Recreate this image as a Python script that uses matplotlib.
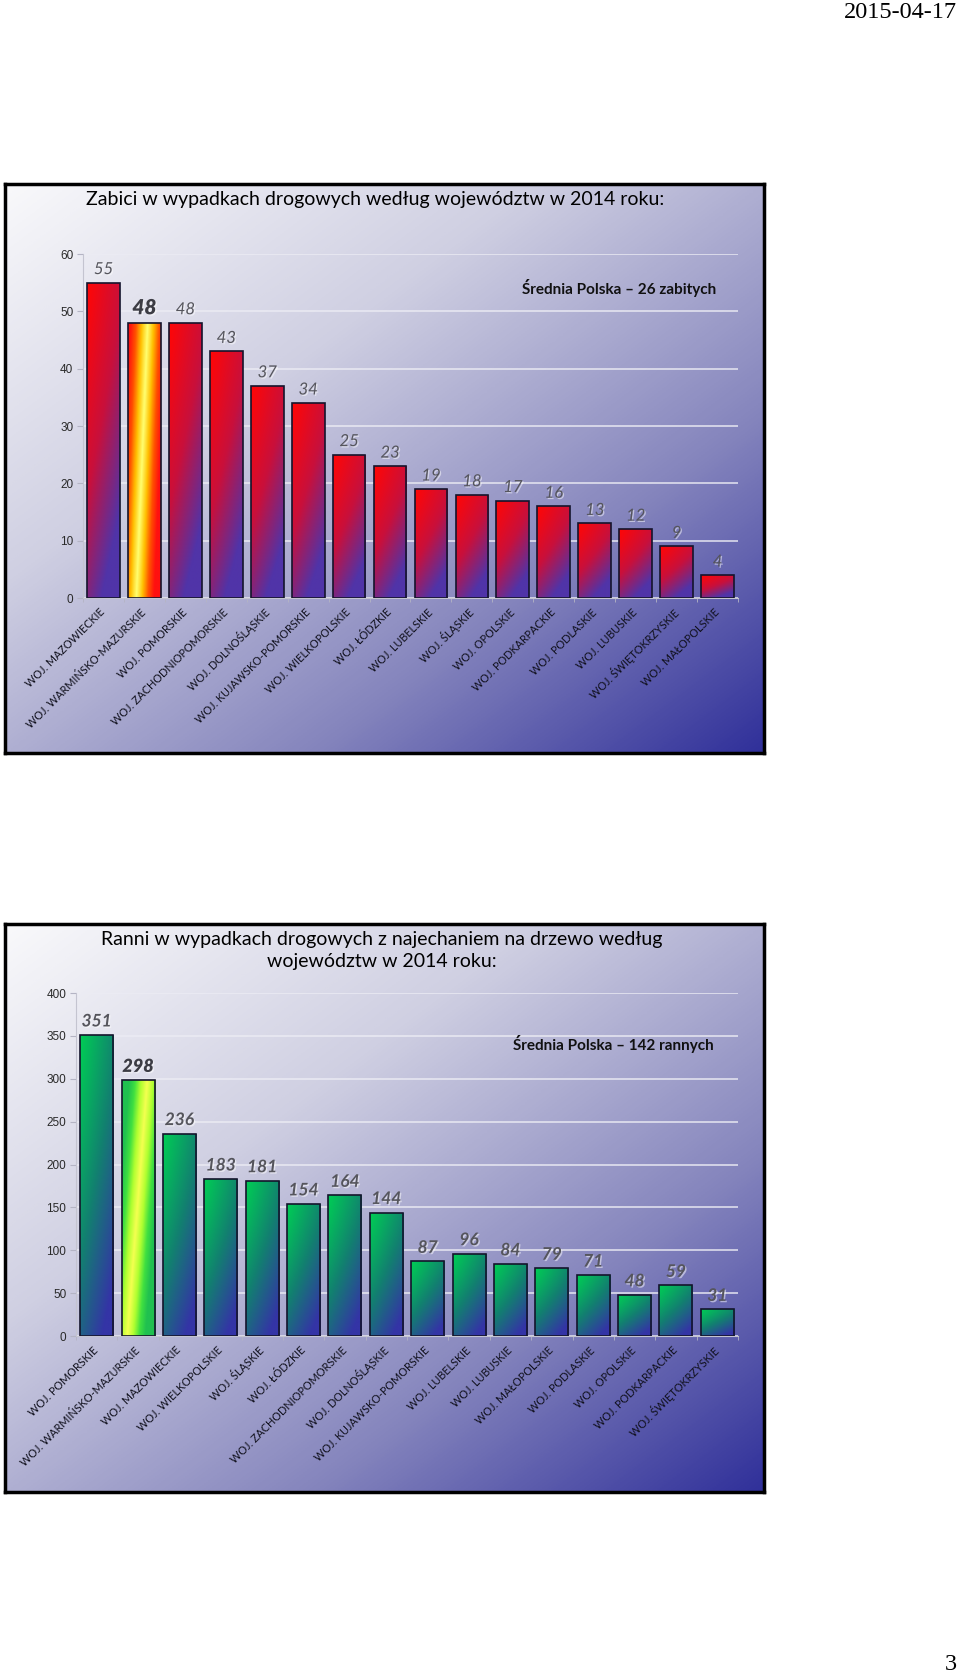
import matplotlib
matplotlib.use("Agg")
import matplotlib.pyplot as plt
import numpy as np
from matplotlib import patheffects
from matplotlib.colors import LinearSegmentedColormap

W, H = 960, 1676

# --- data: killed (top chart) ---
killed_title = "Zabici w wypadkach drogowych według województw w 2014 roku:"
killed_note = "Średnia Polska – 26 zabitych"
killed_regions = [
    "WOJ. MAZOWIECKIE", "WOJ. WARMIŃSKO-MAZURSKIE", "WOJ. POMORSKIE",
    "WOJ. ZACHODNIOPOMORSKIE", "WOJ. DOLNOŚLĄSKIE", "WOJ. KUJAWSKO-POMORSKIE",
    "WOJ. WIELKOPOLSKIE", "WOJ. ŁÓDZKIE", "WOJ. LUBELSKIE", "WOJ. ŚLĄSKIE",
    "WOJ. OPOLSKIE", "WOJ. PODKARPACKIE", "WOJ. PODLASKIE", "WOJ. LUBUSKIE",
    "WOJ. ŚWIĘTOKRZYSKIE", "WOJ. MAŁOPOLSKIE",
]
killed_values = [55, 48, 48, 43, 37, 34, 25, 23, 19, 18, 17, 16, 13, 12, 9, 4]
killed_yticks = [0, 10, 20, 30, 40, 50, 60]

# --- data: injured (bottom chart) ---
injured_title = ["Ranni w wypadkach drogowych z najechaniem na drzewo według",
                 "województw w 2014 roku:"]
injured_note = "Średnia Polska – 142 rannych"
injured_regions = [
    "WOJ. POMORSKIE", "WOJ. WARMIŃSKO-MAZURSKIE", "WOJ. MAZOWIECKIE",
    "WOJ. WIELKOPOLSKIE", "WOJ. ŚLĄSKIE", "WOJ. ŁÓDZKIE",
    "WOJ. ZACHODNIOPOMORSKIE", "WOJ. DOLNOŚLĄSKIE", "WOJ. KUJAWSKO-POMORSKIE",
    "WOJ. LUBELSKIE", "WOJ. LUBUSKIE", "WOJ. MAŁOPOLSKIE", "WOJ. PODLASKIE",
    "WOJ. OPOLSKIE", "WOJ. PODKARPACKIE", "WOJ. ŚWIĘTOKRZYSKIE",
]
injured_values = [351, 298, 236, 183, 181, 154, 164, 144, 87, 96, 84, 79, 71, 48, 59, 31]
injured_yticks = [0, 50, 100, 150, 200, 250, 300, 350, 400]

highlight_idx = 1  # warmińsko-mazurskie

bg_cmap = LinearSegmentedColormap.from_list(
    "bg", [(0, "#f9f9fb"), (0.35, "#cfcfe2"), (0.7, "#8585bd"), (1, "#30309a")])
red_cmap = LinearSegmentedColormap.from_list("red", ["#ff0606", "#c8103c", "#5034a8"])
green_cmap = LinearSegmentedColormap.from_list("green", ["#00cc55", "#128070", "#3434a6"])
red_hl_cmap = LinearSegmentedColormap.from_list(
    "red_hl", ["#ffff70", "#ffc000", "#ff5000", "#ff1010"])
green_hl_cmap = LinearSegmentedColormap.from_list(
    "green_hl", ["#f4ff50", "#b0ff30", "#40e040", "#20c050"])


def px_box(x0, y0, x1, y1):
    return [x0 / W, 1 - y1 / H, (x1 - x0) / W, (y1 - y0) / H]


def panel_background(fig, box):
    bg = fig.add_axes(px_box(*box), zorder=0)
    g = np.linspace(0, 1, 400)
    uu, vv = np.meshgrid(g, g)
    bg.imshow((uu + vv) / 2, cmap=bg_cmap, vmin=0, vmax=1, aspect="auto")
    bg.set_xticks([])
    bg.set_yticks([])
    for s in bg.spines.values():
        s.set_linewidth(2.5)
        s.set_color("black")


def gradient_bars(ax, values, cmap, hl_cmap, stripe, vert):
    bars = ax.bar(range(len(values)), values, width=0.8, facecolor="none",
                  edgecolor="#14142c", linewidth=1.2, zorder=3)
    u, v = np.meshgrid(np.linspace(0, 1, 40), np.linspace(1, 0, 150))
    for i, patch in enumerate(bars):
        x0, w, h = patch.get_x(), patch.get_width(), patch.get_height()
        if i == highlight_idx:
            c = stripe[0] + stripe[1] * v
            t = np.clip(np.abs(u - c) / 0.55, 0, 1)
            cm = hl_cmap
        else:
            t = np.clip(0.45 * u + vert * (1 - v) ** 1.2, 0, 1)
            cm = cmap
        im = ax.imshow(t, cmap=cm, vmin=0, vmax=1, extent=(x0, x0 + w, 0, h),
                       aspect="auto", zorder=2, interpolation="bilinear")
        im.set_clip_path(patch)


def value_labels(ax, values, size, weight, hl_size):
    shadow = [patheffects.withSimplePatchShadow(offset=(1, -1), shadow_rgbFace="white", alpha=0.5)]
    for i, v in enumerate(values):
        hl = i == highlight_idx
        ax.annotate(str(v), (i, v), xytext=(0, 4), textcoords="offset points",
                    ha="center", va="bottom", style="italic", family="Lato",
                    fontsize=hl_size if hl else size,
                    fontweight="heavy" if hl else weight,
                    color="#3c3c44" if hl else "#55555c", path_effects=shadow, zorder=5)


def setup_axes(ax, regions, yticks):
    n = len(regions)
    ax.set_facecolor("none")
    ax.set_xlim(-0.5, n - 0.5)
    ax.set_ylim(yticks[0], yticks[-1])
    ax.set_yticks(yticks)
    ax.set_xticks(range(n))
    ax.set_xticklabels(regions, rotation=45, ha="right", va="center",
                       rotation_mode="anchor", fontsize=7.8, family="Lato",
                       color="#10101c")
    ax.set_xticks(np.arange(-0.5, n), minor=True)
    ax.tick_params(axis="x", which="major", length=0, pad=9)
    ax.tick_params(axis="x", which="minor", length=3, color="#b4b4c4")
    ax.tick_params(axis="y", length=4, color="#b4b4c4", labelsize=8.5,
                   labelcolor="#2a2a2a", pad=3)
    for lab in ax.get_yticklabels():
        lab.set_family("Liberation Sans")
    ax.grid(axis="y", color="#ececf4", lw=1.3, alpha=0.8)
    ax.set_axisbelow(True)
    for s in ("top", "right"):
        ax.spines[s].set_visible(False)
    for s in ("left", "bottom"):
        ax.spines[s].set_color("#c4c4d0")


fig = plt.figure(figsize=(W / 100, H / 100), dpi=100)

# top chart
panel_background(fig, (5, 184, 764, 753))
ax1 = fig.add_axes(px_box(83, 254, 738, 598), zorder=2)
gradient_bars(ax1, killed_values, red_cmap, red_hl_cmap, (0.25, 0.35), 0.8)
setup_axes(ax1, killed_regions, killed_yticks)
value_labels(ax1, killed_values, 12, "normal", 15)
fig.text(375 / W, 1 - 199 / H, killed_title, ha="center", va="center",
         fontsize=14, family="Lato", color="black", zorder=5)
fig.text(619 / W, 1 - 288 / H, killed_note, ha="center", va="center",
         fontsize=11, fontweight="bold", family="Lato", color="#111111", zorder=5)

# bottom chart
panel_background(fig, (5, 924, 764, 1492))
ax2 = fig.add_axes(px_box(76, 993, 738, 1336), zorder=2)
gradient_bars(ax2, injured_values, green_cmap, green_hl_cmap, (0.15, 0.6), 0.7)
setup_axes(ax2, injured_regions, injured_yticks)
value_labels(ax2, injured_values, 12.5, "bold", 13)
fig.text(382 / W, 1 - 939 / H, injured_title[0], ha="center", va="center",
         fontsize=14, family="Lato", color="black", zorder=5)
fig.text(382 / W, 1 - 961 / H, injured_title[1], ha="center", va="center",
         fontsize=14, family="Lato", color="black", zorder=5)
fig.text(613 / W, 1 - 1044 / H, injured_note, ha="center", va="center",
         fontsize=11, fontweight="bold", family="Lato", color="#111111", zorder=5)

# page header / footer
fig.text(957 / W, 1 - 13 / H, "2015-04-17", ha="right", va="center",
         fontsize=17.5, family="Liberation Serif", color="black")
fig.text(957 / W, 1 - 1664 / H, "3", ha="right", va="center",
         fontsize=17.5, family="Liberation Serif", color="black")

fig.savefig("out.png", dpi=100)
plt.close(fig)
